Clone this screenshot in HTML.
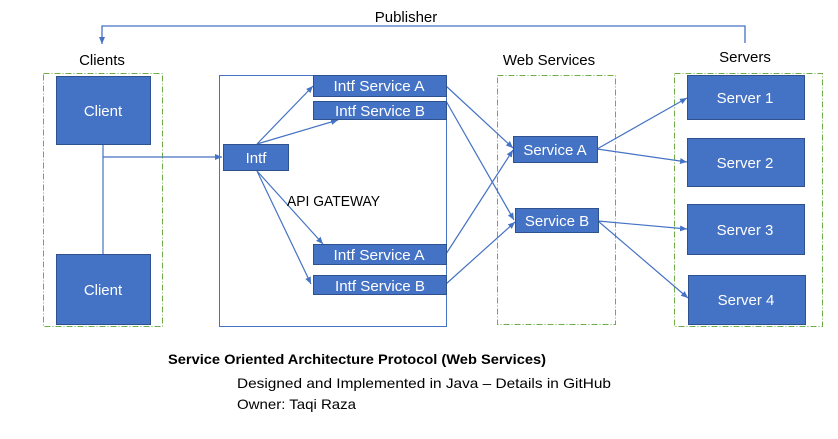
<!DOCTYPE html>
<html><head><meta charset="utf-8"><style>
html,body{margin:0;padding:0;background:#fff;}
svg{display:block;font-family:"Liberation Sans",sans-serif;}
</style></head><body>
<svg width="838" height="439" viewBox="0 0 838 439" xmlns="http://www.w3.org/2000/svg">
<defs>
<marker id="a" markerWidth="8" markerHeight="8" refX="7" refY="4" orient="auto" markerUnits="userSpaceOnUse">
<path d="M0,1 L7,4 L0,7 z" fill="#4472c4"/></marker>
</defs>
<rect width="838" height="439" fill="#fff"/>
<polyline points="745,43 745,26 102,26 102,44" fill="none" stroke="#4472c4" stroke-width="1.3" marker-end="url(#a)"/>
<text x="406" y="22" font-size="15" text-anchor="middle" fill="#000">Publisher</text>
<text x="102" y="65" font-size="15" text-anchor="middle">Clients</text>
<text x="549" y="65" font-size="15" text-anchor="middle">Web Services</text>
<text x="745" y="62" font-size="15" text-anchor="middle">Servers</text>
<g fill="none" stroke="#70ad47" stroke-width="1" stroke-dasharray="6,2,1,2">
<rect x="43.5" y="73.5" width="119" height="253"/>
<rect x="497.5" y="75.5" width="118" height="249"/>
<rect x="674.5" y="73.5" width="148" height="253"/>
</g>
<rect x="219.5" y="75.5" width="227" height="251" fill="none" stroke="#4472c4" stroke-width="1"/>
<g stroke="#4472c4" stroke-width="1.2" fill="none">
<line x1="103" y1="144" x2="103" y2="254"/>
<line x1="103" y1="157" x2="222" y2="157" marker-end="url(#a)"/>
<line x1="257" y1="144" x2="313" y2="86" marker-end="url(#a)"/>
<line x1="257" y1="144" x2="338" y2="120" marker-end="url(#a)"/>
<line x1="257" y1="171" x2="323" y2="244" marker-end="url(#a)"/>
<line x1="257" y1="171" x2="311" y2="284" marker-end="url(#a)"/>
<line x1="446" y1="86" x2="513" y2="148" marker-end="url(#a)"/>
<line x1="446" y1="101" x2="514" y2="220" marker-end="url(#a)"/>
<line x1="446" y1="254" x2="513" y2="150" marker-end="url(#a)"/>
<line x1="446" y1="284" x2="515" y2="222" marker-end="url(#a)"/>
<line x1="597" y1="149" x2="687" y2="98" marker-end="url(#a)"/>
<line x1="597" y1="149" x2="687" y2="162" marker-end="url(#a)"/>
<line x1="598" y1="221" x2="687" y2="229" marker-end="url(#a)"/>
<line x1="598" y1="221" x2="688" y2="298" marker-end="url(#a)"/>
</g>
<g fill="#4472c4" stroke="#2f528f" stroke-width="1">
<rect x="56.5" y="76.5" width="94" height="68"/>
<rect x="56.5" y="254.5" width="94" height="70"/>
<rect x="223.5" y="144.5" width="65" height="26"/>
<rect x="313.5" y="75.5" width="133" height="21"/>
<rect x="313.5" y="101.5" width="133" height="18"/>
<rect x="313.5" y="244.5" width="133" height="20"/>
<rect x="313.5" y="275.5" width="133" height="19"/>
<rect x="513.5" y="136.5" width="84" height="26"/>
<rect x="515.5" y="208.5" width="83" height="24"/>
<rect x="687.5" y="75.5" width="117" height="44"/>
<rect x="687.5" y="138.5" width="117" height="48"/>
<rect x="687.5" y="204.5" width="117" height="50"/>
<rect x="688.5" y="275.5" width="117" height="49"/>
</g>
<g fill="#fff" font-size="15" text-anchor="middle">
<text x="103" y="116">Client</text>
<text x="103" y="295">Client</text>
<text x="256" y="163">Intf</text>
<text x="379" y="91" textLength="91" lengthAdjust="spacingAndGlyphs">Intf Service A</text>
<text x="380" y="116" textLength="90" lengthAdjust="spacingAndGlyphs">Intf Service B</text>
<text x="379" y="260" textLength="91" lengthAdjust="spacingAndGlyphs">Intf Service A</text>
<text x="380" y="291" textLength="90" lengthAdjust="spacingAndGlyphs">Intf Service B</text>
<text x="555" y="155">Service A</text>
<text x="557" y="226">Service B</text>
<text x="745" y="103">Server 1</text>
<text x="745" y="168">Server 2</text>
<text x="745" y="235">Server 3</text>
<text x="746" y="305">Server 4</text>
</g>
<text x="287" y="206" font-size="15" textLength="93" lengthAdjust="spacingAndGlyphs">API GATEWAY</text>
<text x="168" y="364" font-size="14" font-weight="bold" textLength="378" lengthAdjust="spacingAndGlyphs">Service Oriented Architecture Protocol (Web Services)</text>
<text x="237" y="388" font-size="14" textLength="374" lengthAdjust="spacingAndGlyphs">Designed and Implemented in Java – Details in GitHub</text>
<text x="237" y="409" font-size="14" textLength="119" lengthAdjust="spacingAndGlyphs">Owner: Taqi Raza</text>
</svg>
</body></html>
